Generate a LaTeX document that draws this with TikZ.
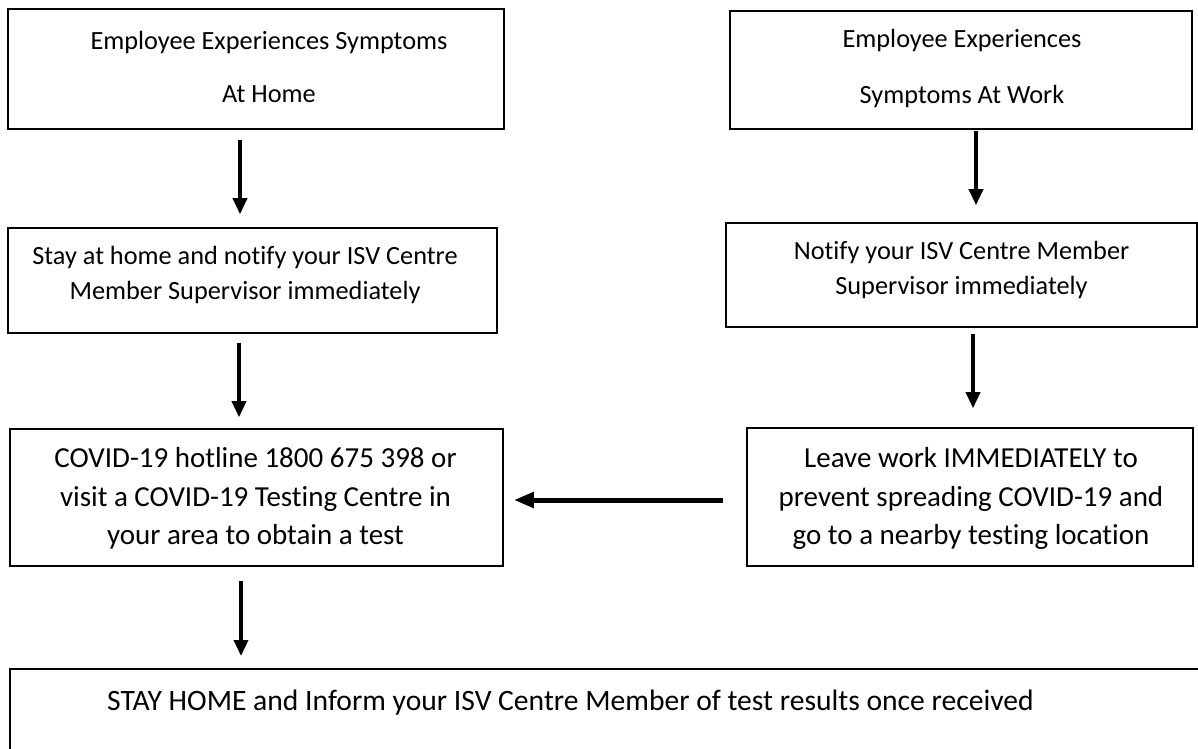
\documentclass[tikz,border=0pt]{standalone}
\usepackage{fontspec}
\setmainfont{Carlito}[Ligatures=NoCommon]
\usetikzlibrary{arrows.meta}
\tikzset{
  box/.style={draw=black, line width=1.6pt, rectangle, inner sep=0pt},
  txt/.style={align=center, inner sep=0pt, font=\fontsize{26.3}{35}\selectfont},
  bigtxt/.style={align=center, inner sep=0pt, font=\fontsize{29}{38.5}\selectfont},
  bottxt/.style={inner sep=0pt, font=\fontsize{29.6}{38.5}\selectfont},
  arr/.style={line width=3.5pt, -{Triangle[width=14pt,length=16pt]}},
  harr/.style={line width=5pt, -{Triangle[width=15pt,length=20pt]}},
}
\begin{document}
\begin{tikzpicture}[x=1pt,y=-1pt]
\useasboundingbox (0,0) rectangle (1198,748);
% left column
\node[box, minimum width=496pt, minimum height=120pt] (b1) at (256,69) {};
\node[txt] (b1t) at (269,66.5) {Employee Experiences Symptoms\\[18pt]At Home};
\node[box, minimum width=489pt, minimum height=105pt] (b2) at (252.5,280.5) {};
\node[txt] (b2t) at (245,274.5) {Stay at home and notify your ISV Centre\\Member Supervisor immediately};
\node[box, minimum width=493pt, minimum height=137pt] (b3) at (256.5,497.5) {};
\node[bigtxt] (b3t) at (255.5,498.5) {COVID-19 hotline 1800 675 398 or\\visit a COVID-19 Testing Centre in\\your area to obtain a test};
% right column
\node[box, minimum width=462pt, minimum height=118pt] (r1) at (961,70) {};
\node[txt] (r1t) at (962,68) {Employee Experiences\\[21pt]Symptoms At Work};
\node[box, minimum width=471pt, minimum height=104pt] (r2) at (961.5,275) {};
\node[txt] (r2t) at (961.5,269.5) {Notify your ISV Centre Member\\Supervisor immediately};
\node[box, minimum width=446pt, minimum height=138pt] (r3) at (970,497) {};
\node[bigtxt] (r3t) at (971,498.5) {Leave work IMMEDIATELY to\\prevent spreading COVID-19 and\\go to a nearby testing location};
% bottom
\node[box, anchor=north west, minimum width=1200pt, minimum height=100pt] (b4) at (9,668) {};
\node[bottxt, anchor=west] (b4t) at (107,703) {STAY HOME and Inform your ISV Centre Member of test results once received};
% arrows
\draw[arr, shorten <=10pt, shorten >=13pt] ([xshift=-16pt]b1.south) -- ([xshift=-12.5pt]b2.north);
\draw[arr, shorten <=9pt, shorten >=11pt] ([xshift=-13.5pt]b2.south) -- ([xshift=-13.5pt]b2.south |- b3.north);
\draw[arr, shorten <=1pt, shorten >=17pt] ([xshift=15pt]r1.south) -- ([xshift=14.5pt]r2.north);
\draw[arr, shorten <=6pt, shorten >=19pt] ([xshift=11.5pt]r2.south) -- ([xshift=11.5pt]r2.south |- r3.north);
\draw[harr, shorten <=23pt, shorten >=10pt] (r3.west |- 0,500) -- (b3.east |- 0,500);
\draw[arr, shorten <=14pt, shorten >=12pt] ([xshift=-15.5pt]b3.south) -- ([xshift=-15.5pt]b3.south |- b4.north);
\end{tikzpicture}
\end{document}
